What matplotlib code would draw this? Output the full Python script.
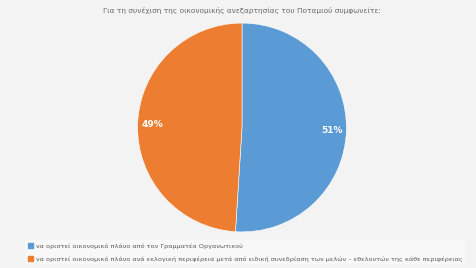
import matplotlib.pyplot as plt
import matplotlib.patches as mpatches

title = 'Για τη συνέχιση της οικονομικής ανεξαρτησίας του Ποταμιού συμφωνείτε:'
labels = ['να οριστεί οικονομικό πλάνο από τον Γραμματέα Οργανωτικού',
          'να οριστεί οικονομικό πλάνο ανά εκλογική περιφέρεια μετά από ειδική συνεδρίαση των μελών – εθελοντών της κάθε περιφέρειας']
values = [51, 49]
colors = ['#5b9bd5', '#ed7d31']

W, H = 477, 268
fig = plt.figure(figsize=(W / 100, H / 100), dpi=100)
fig.patch.set_facecolor('#f3f3f3')

# pie axes placed in pixel units
cx, cy, r = 242, 127.5, 106.5
ax = fig.add_axes([(cx - r) / W, (H - cy - r) / H, 2 * r / W, 2 * r / H])
ax.set_facecolor('none')
wedges, texts, autotexts = ax.pie(values, colors=colors, startangle=90, counterclock=False,
                                  autopct='%1.0f%%', pctdistance=0.86, radius=1,
                                  wedgeprops=dict(edgecolor='white', linewidth=0.4),
                                  textprops=dict(color='white', fontsize=6.5, fontweight='bold'))
ax.set_xlim(-1.02, 1.02)
ax.set_ylim(-1.02, 1.02)
ax.set_aspect('equal')
ax.axis('off')

fig.text(cx / W, 1 - 10 / H, title, ha='center', va='center', fontsize=5.3, color='#6a6a6a')

handles = [mpatches.Patch(color=c, label=l) for c, l in zip(colors, labels)]
leg = fig.legend(handles=handles, loc='upper left', bbox_to_anchor=(22 / W, 1 - 237 / H),
                 fontsize=4.68, frameon=True, facecolor='#fafafa', edgecolor='none',
                 handlelength=0.8, handleheight=0.8, handletextpad=0.4, labelspacing=1.15,
                 borderpad=0.4, fancybox=False)
for t in leg.get_texts():
    t.set_color('#595959')

fig.savefig('out.png', dpi=100, facecolor=fig.get_facecolor())
